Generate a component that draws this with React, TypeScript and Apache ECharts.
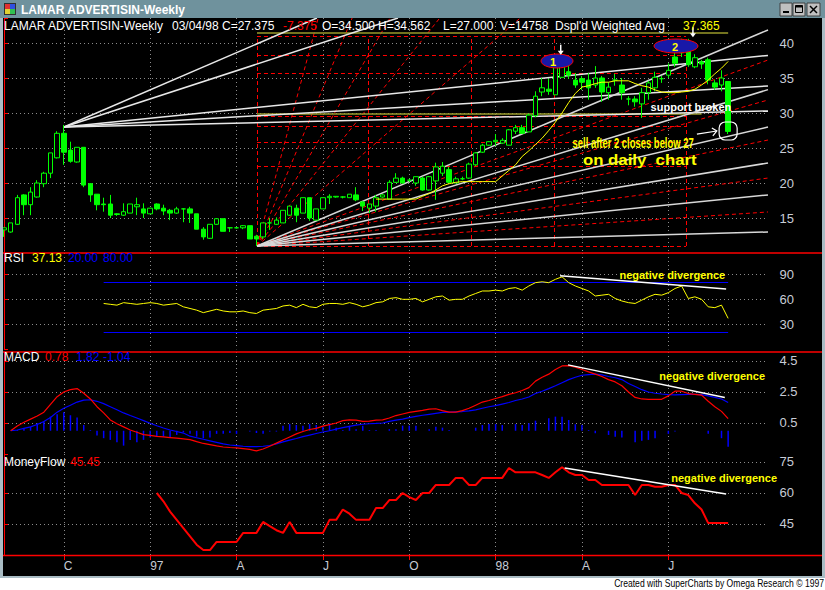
import React, { useEffect, useRef } from "react";
import * as echarts from "echarts";

// ---------- axis / category data ----------
const N_SLOTS = 116;
const SLOTS = Array.from({ length: N_SLOTS }, (_, i) => String(i));
const QUARTER_IDX = [9, 22, 35, 48, 61, 74, 87, 100];
const QUARTER_LABELS = ["C", "97", "A", "J", "O", "98", "A", "J"];
const PRICE_TICKS = [15, 20, 25, 30, 35, 40];
const RSI_TICKS = [30, 60, 90];
const MACD_TICKS = [0.5, 2.5, 4.5];
const MF_TICKS = [45, 60, 75];

// ---------- weekly candles [open, close, low, high] ----------
const OHLC = [
  [13.3, 13.6, 12.3, 13.6], [13.0, 14.3, 12.9, 14.3], [14.1, 17.9, 14.0, 18.3], [18.3, 16.9, 15.4, 18.4],
  [16.9, 18.7, 15.4, 19.4], [18.0, 20.0, 17.9, 20.4], [19.9, 21.4, 19.4, 21.6], [21.4, 24.3, 20.7, 24.3],
  [23.6, 27.1, 23.5, 27.4], [27.1, 24.4, 22.6, 28.3], [24.7, 23.1, 22.9, 25.9], [23.0, 25.1, 22.9, 25.1],
  [25.1, 19.7, 19.4, 25.1], [19.9, 18.3, 17.3, 20.0], [18.4, 16.9, 16.1, 18.4], [17.0, 16.9, 15.9, 17.9],
  [17.0, 15.4, 15.0, 18.3], [15.6, 15.5, 15.3, 15.7], [15.4, 15.9, 15.3, 17.1], [15.7, 17.0, 15.7, 17.0],
  [16.6, 16.9, 15.4, 17.9], [16.3, 15.7, 15.0, 17.1], [15.6, 16.4, 15.6, 16.4], [17.0, 16.3, 16.1, 17.1],
  [16.4, 16.0, 15.4, 16.9], [16.1, 15.7, 14.7, 16.3], [15.7, 16.3, 15.6, 16.6], [16.3, 16.3, 14.4, 16.4],
  [16.3, 15.7, 14.3, 16.6], [15.6, 13.4, 13.4, 15.6], [13.4, 12.3, 11.9, 13.7], [12.1, 14.1, 12.0, 14.1],
  [14.1, 14.9, 14.0, 14.9], [14.9, 13.1, 13.1, 14.9], [13.6, 13.6, 13.0, 13.7], [13.6, 13.6, 13.5, 13.7],
  [13.6, 13.9, 13.4, 14.0], [13.9, 12.0, 12.0, 13.9], [12.4, 12.0, 11.0, 12.6], [12.3, 14.3, 12.0, 14.3],
  [14.3, 14.3, 13.3, 15.0], [14.1, 14.7, 14.0, 15.1], [14.3, 16.1, 14.3, 16.1], [15.4, 16.7, 15.3, 16.7],
  [16.4, 15.4, 14.4, 16.9], [15.7, 17.9, 15.7, 17.9], [17.9, 15.0, 14.6, 17.9], [14.7, 16.3, 14.7, 16.3],
  [16.3, 17.9, 16.3, 17.9], [17.9, 18.1, 17.0, 18.4], [18.0, 18.1, 17.9, 18.1], [18.0, 18.0, 17.8, 18.1],
  [17.9, 18.4, 17.9, 18.4], [18.3, 17.6, 17.4, 19.4], [17.3, 16.7, 16.0, 17.4], [16.4, 17.0, 15.7, 17.0],
  [16.7, 17.9, 15.9, 18.3], [18.0, 18.3, 17.9, 18.4], [17.7, 20.1, 17.7, 20.4], [20.1, 20.7, 20.0, 21.4],
  [20.7, 20.0, 19.9, 20.9], [20.4, 20.4, 20.1, 20.6], [20.0, 20.9, 19.6, 20.9], [20.7, 19.0, 18.9, 20.9],
  [19.0, 20.9, 18.9, 21.0], [20.3, 22.3, 17.6, 22.9], [21.4, 22.4, 21.0, 23.0], [21.9, 20.1, 20.0, 22.3],
  [20.0, 20.6, 20.0, 20.9], [20.6, 20.6, 20.4, 20.9], [20.7, 22.7, 20.6, 22.9], [22.6, 24.3, 22.4, 24.4],
  [24.4, 25.4, 24.3, 25.6], [25.4, 25.9, 25.3, 26.0], [25.9, 26.1, 25.3, 27.0], [25.7, 26.1, 25.6, 26.4],
  [25.4, 27.6, 25.4, 27.7], [27.4, 27.9, 27.0, 28.3], [27.9, 27.1, 27.0, 28.3], [27.3, 29.7, 27.3, 29.9],
  [29.6, 32.4, 29.4, 33.1], [33.0, 33.6, 32.4, 35.0], [33.4, 33.1, 32.6, 34.9], [32.6, 36.6, 32.6, 36.9],
  [35.1, 38.0, 35.0, 38.7], [35.9, 35.4, 34.9, 37.0], [34.7, 34.0, 33.6, 35.7], [34.9, 34.4, 33.3, 35.3],
  [34.7, 33.6, 31.9, 35.7], [34.0, 35.0, 33.6, 36.7], [35.0, 33.0, 31.6, 35.3], [32.9, 33.7, 31.9, 34.4],
  [34.7, 34.7, 33.9, 35.6], [34.0, 32.9, 31.9, 35.0], [32.0, 32.0, 31.1, 32.4], [32.0, 31.6, 30.9, 32.4],
  [31.3, 32.9, 29.3, 33.6], [32.9, 34.3, 31.9, 34.6], [33.6, 35.1, 33.1, 35.9], [34.9, 34.9, 34.3, 35.3],
  [35.4, 36.1, 35.0, 37.1], [38.0, 37.1, 36.6, 39.0], [38.6, 40.1, 38.0, 40.6], [40.1, 36.9, 36.6, 40.6],
  [36.6, 37.9, 36.4, 38.4], [37.3, 37.0, 36.3, 37.6], [37.6, 34.7, 34.1, 37.9], [34.3, 33.7, 33.3, 34.7],
  [34.0, 35.0, 33.1, 36.1], [34.5, 27.375, 27.0, 34.562],
];

// ---------- displayed weighted average ----------
const WMA_START = 56;
const WMA = [
  17.7, 17.7, 17.7, 17.7, 17.7, 17.7, 17.7, 18.1, 18.5, 19.0, 19.6, 19.9, 20.1, 20.2, 20.2, 20.2, 20.2, 20.2,
  20.2, 21.0, 21.8, 22.6, 23.8, 24.6, 25.5, 26.4, 27.5, 28.7, 30.0, 31.5, 32.8, 33.7, 33.9, 34.2, 34.4, 34.4,
  34.6, 34.6, 34.6, 34.2, 33.9, 33.7, 33.3, 33.0, 32.9, 32.9, 33.0, 33.1, 33.4, 34.0, 34.7, 35.6, 36.4, 37.365,
];

// ---------- RSI ----------
const RSI_START = 15;
const RSI = [
  55, 54, 53, 56, 55, 54, 55, 56, 55, 53, 54, 55, 51, 49, 47, 44, 46, 48, 46, 45, 45, 46, 44, 43, 47, 48, 49,
  52, 53, 50, 54, 51, 50, 54, 55, 55, 54, 56, 54, 51, 53, 56, 57, 61, 62, 60, 60, 61, 57, 60, 63, 64, 59, 60,
  60, 64, 67, 70, 70, 71, 70, 73, 74, 71, 76, 80, 81, 80, 84, 87, 80, 76, 73, 70, 64, 65, 66, 61, 58, 56, 55,
  59, 63, 66, 65, 68, 73, 76, 61, 63, 60, 51, 50, 53, 37.13,
];

// ---------- MACD ----------
const MACD_START = 1;
const MACD = [
  0.0, 0.3, 0.55, 0.75, 0.95, 1.2, 1.7, 2.2, 2.5, 2.65, 2.72, 2.42, 2.05, 1.55, 1.15, 0.7, 0.45, 0.25, 0.05,
  -0.1, -0.25, -0.3, -0.36, -0.4, -0.44, -0.48, -0.52, -0.57, -0.7, -0.82, -0.9, -0.98, -1.05, -1.08, -1.1,
  -1.15, -1.2, -1.3, -1.18, -1.0, -0.8, -0.6, -0.4, -0.2, -0.05, 0.08, 0.15, 0.3, 0.4, 0.5, 0.65, 0.7, 0.68,
  0.6, 0.62, 0.68, 0.7, 0.82, 0.98, 1.08, 1.18, 1.25, 1.32, 1.4, 1.42, 1.3, 1.2, 1.2, 1.3, 1.45, 1.65, 1.85,
  1.95, 2.08, 2.2, 2.35, 2.45, 2.6, 2.78, 3.2, 3.45, 3.65, 3.95, 4.18, 4.2, 4.1, 3.95, 3.8, 3.65, 3.5, 3.3,
  3.15, 2.9, 2.5, 2.15, 2.05, 2.02, 2.02, 2.03, 2.25, 2.55, 2.55, 2.4, 2.35, 2.3, 1.9, 1.55, 1.25, 0.78,
];
const SIGNAL = [
  0.0, 0.05, 0.15, 0.25, 0.4, 0.6, 0.85, 1.2, 1.45, 1.65, 1.85, 1.98, 2.0, 1.9, 1.75, 1.55, 1.35, 1.15, 0.98,
  0.82, 0.65, 0.48, 0.32, 0.18, 0.05, -0.05, -0.15, -0.35, -0.45, -0.55, -0.65, -0.75, -0.85, -0.92, -0.96,
  -1.0, -1.02, -1.03, -1.0, -0.95, -0.85, -0.72, -0.6, -0.5, -0.38, -0.28, -0.18, -0.08, 0.0, 0.1, 0.2, 0.28,
  0.36, 0.42, 0.45, 0.47, 0.5, 0.6, 0.68, 0.75, 0.85, 0.93, 1.0, 1.06, 1.12, 1.18, 1.2, 1.22, 1.24, 1.28, 1.35,
  1.45, 1.55, 1.62, 1.72, 1.82, 1.95, 2.05, 2.18, 2.4, 2.55, 2.72, 2.9, 3.1, 3.3, 3.45, 3.58, 3.62, 3.65, 3.6,
  3.5, 3.42, 3.3, 3.05, 2.85, 2.65, 2.5, 2.42, 2.37, 2.33, 2.31, 2.33, 2.35, 2.35, 2.33, 2.25, 2.15, 2.05, 1.82,
];
const HIST = [
  0, 0, 0.05, 0.15, 0.26, 0.48, 0.6, 0.91, 1.06, 1.19, 1.0, 0.85, 0.37, 0.05, -0.3, -0.48, -0.59, -0.74, -0.96,
  -0.59, -0.74, -0.59, -0.43, -0.38, -0.38, -0.43, -0.27, -0.1, -0.2, -0.38, -0.48, -0.43, -0.2, -0.2, -0.15,
  -0.2, 0.0, -0.05, -0.15, -0.2, -0.05, -0.05, 0.32, 0.43, 0.37, 0.32, 0.43, 0.37, 0.26, 0.48, 0.2, 0.05, 0.32,
  0.1, 0.32, 0.05, 0.05, 0, 0.1, 0.1, 0.33, 0.33, 0.33, 0, 0.1, 0.26, 0.2, 0.05, 0, 0, 0, 0.2, 0.37, 0.43, 0.43,
  0.37, 0, 0.43, 0.37, 0.48, 0.65, 0, 0.81, 0.91, 0.91, 0.69, 0.42, 0.37, 0.05, -0.16, 0, -0.27, -0.38, -0.43,
  0, -0.74, -0.65, -0.59, -0.48, 0, -0.2, -0.05, 0, 0, 0, 0, -0.2, 0, -0.48, -1.04,
];

// ---------- Money Flow ----------
const MF_START = 23;
const MF = [
  60, 56, 51, 47, 43, 39, 35, 32.4, 32.4, 36.3, 36.3, 36.3, 36.3, 40.7, 40.7, 40.7, 46, 44, 42, 40.7, 46, 40.7,
  40.7, 40.7, 40.7, 40.7, 47, 47, 52, 50, 47, 47, 47, 52.7, 52.7, 56.6, 56.6, 60, 58, 56.6, 60, 60, 63.9, 63.9,
  63.9, 67.3, 67.3, 63.9, 63.9, 67.3, 67.3, 67.3, 67.3, 72.1, 70, 70, 70, 70, 68.7, 67.3, 70, 72.5, 70, 68.7,
  68.7, 66.3, 66.3, 63.9, 63.9, 63.9, 63.9, 63.9, 59, 63.9, 63.9, 63, 63, 63.9, 63.9, 60, 59, 55, 52, 45.45,
  45.45, 45.45, 45.45,
];

// ---------- drawn studies (x = week index, y = value) ----------
const PEAK_FAN = [
  [9.03, 28.0, 47.1, 43.57], [9.03, 28.0, 59.3, 43.57], [9.03, 28.0, 115, 38.23],
  [9.03, 28.0, 115, 33.86], [9.03, 28.0, 115, 30.29],
];
const LOW_FAN_WHITE = [
  [38.08, 11.0, 115, 41.86], [38.08, 11.0, 115, 33.34], [38.08, 11.0, 115, 28.0],
  [38.08, 11.0, 115, 22.86], [38.08, 11.0, 115, 18.29], [38.08, 11.0, 115, 13.0],
];
const LOW_FAN_RED = [
  [38.08, 11.0, 47.3, 43.57], [38.08, 11.0, 52.4, 43.57], [38.08, 11.0, 58.1, 43.57],
  [38.08, 11.0, 65.6, 43.57], [38.08, 11.0, 77.7, 43.57], [38.08, 11.0, 115, 37.57],
  [38.08, 11.0, 115, 31.86], [38.08, 11.0, 115, 26.14], [38.08, 11.0, 115, 20.71], [38.08, 11.0, 115, 15.86],
];
const GANN_BOX_X = [38.08, 54.8, 70.3, 82.9, 102.66];
const GANN_BOX_Y = [40.93, 38.3, 35.7, 29.57, 28.04, 25.86, 22.43, 11.0];
const OLIVE_LINES = [[38.08, 41.47, 109, 41.47], [38.08, 29.86, 105, 29.86]];
const RSI_LEVELS = [[15, 80, 109, 80], [15, 20, 109, 20]];
const RSI_DIV = [[83.7, 88.2, 108.7, 72.4]];
const MACD_DIV = [[84.9, 4.25, 108.5, 2.14]];
const MF_DIV = [[84.4, 72.1, 108.7, 59.5]];

const FONT = '"Liberation Sans", Arial, sans-serif';
const GRID_COLOR = "#8c8c8c";
const AXIS_TEXT = "#c8ccd6";

const pad = (start: number, arr: number[]) => {
  const out: (number | null)[] = [];
  for (let i = 0; i < start; i++) out.push(null);
  return out.concat(arr);
};
const segs = (arr: number[][]) => arr.map(([a, b, c, d]) => ({ coords: [[a, b], [c, d]] }));

function buildOption(): any {
  const isQ = (i: number) => QUARTER_IDX.indexOf(i) >= 0;
  const grids = [
    { left: 4, right: 57, top: 18, height: 235 },
    { left: 4, right: 57, top: 253, height: 96.3 },
    { left: 4, right: 57, top: 352, height: 102 },
    { left: 4, right: 57, top: 454, height: 101 },
  ];
  const catAxes = grids.map((_, g) => ({
    type: "category",
    gridIndex: g,
    data: SLOTS,
    boundaryGap: false,
    axisLine: { show: false },
    axisTick: {
      show: g === 3,
      interval: (i: number) => isQ(i),
      length: 5,
      lineStyle: { color: "#ff0000" },
    },
    axisLabel: {
      show: g === 3,
      interval: (i: number) => isQ(i),
      formatter: (v: string) => {
        const k = QUARTER_IDX.indexOf(Number(v));
        return k >= 0 ? QUARTER_LABELS[k] : "";
      },
      color: AXIS_TEXT,
      fontSize: 12,
      fontFamily: FONT,
      margin: 5,
      align: "left",
    },
    splitLine: {
      show: true,
      interval: (i: number) => isQ(i),
      lineStyle: { color: GRID_COLOR, type: [1, 3], width: 1 },
    },
  }));
  const valAxes = grids.map((_, g) => ({
    type: "value",
    gridIndex: g,
    min: 0,
    max: 115,
    show: false,
    splitLine: { show: false },
  }));
  const mkY = (g: number, min: number, max: number, interval: number, ticks: number[], fmt: (v: number) => string) => ({
    type: "value",
    gridIndex: g,
    position: "right",
    offset: 3.5,
    min,
    max,
    interval,
    axisLine: { show: true, lineStyle: { color: "#ff0000", width: 1 } },
    axisTick: { show: true, length: 4, lineStyle: { color: "#ff0000" } },
    axisLabel: {
      color: AXIS_TEXT,
      fontSize: 13,
      fontFamily: FONT,
      margin: 8,
      formatter: (v: number) => (ticks.some((t) => Math.abs(t - v) < 1e-6) ? fmt(v) : ""),
    },
    splitLine: {
      show: true,
      showMinLine: false,
      showMaxLine: false,
      lineStyle: { color: GRID_COLOR, type: [1, 3], width: 1 },
    },
  });
  const yAxes = [
    mkY(0, 10, 10 + 235 / 7, 5, PRICE_TICKS, (v) => String(v)),
    mkY(1, 0, 115.6, 30, RSI_TICKS, (v) => String(v)),
    mkY(2, -1.5, 5.08, 2, MACD_TICKS, (v) => v.toFixed(1)),
    mkY(3, 30, 78.87, 15, MF_TICKS, (v) => String(v)),
  ];

  const linesSeries = (xi: number, yi: number, data: number[][], color: string, width: number, type: any = "solid", z = 3) => ({
    type: "lines",
    coordinateSystem: "cartesian2d",
    xAxisIndex: xi,
    yAxisIndex: yi,
    polyline: false,
    silent: true,
    z,
    lineStyle: { color, width, type, opacity: 1 },
    data: segs(data),
  });

  const boxLines: number[][] = [];
  GANN_BOX_X.forEach((x) => boxLines.push([x, 11.0, x, 40.93]));
  GANN_BOX_Y.forEach((y) => boxLines.push([38.08, y, 102.66, y]));

  return {
    animation: false,
    backgroundColor: "#000000",
    grid: grids,
    xAxis: [...catAxes, ...valAxes],
    yAxis: yAxes,
    series: [
      linesSeries(4, 0, boxLines, "#ff0000", 1, [4, 3], 1),
      linesSeries(4, 0, LOW_FAN_RED, "#ff0000", 1, [4, 3], 1),
      linesSeries(4, 0, OLIVE_LINES, "#9a9a2a", 1.5, "solid", 1),
      linesSeries(4, 0, PEAK_FAN, "#e8e8e8", 1.5, "solid", 1),
      linesSeries(4, 0, LOW_FAN_WHITE, "#d8d8d8", 1.5, "solid", 1),
      {
        type: "candlestick",
        xAxisIndex: 0,
        yAxisIndex: 0,
        data: OHLC,
        barWidth: 5,
        z: 4,
        itemStyle: {
          color: "#000000",
          color0: "#00ff00",
          borderColor: "#00ff00",
          borderColor0: "#00ff00",
          borderWidth: 1,
        },
      },
      {
        type: "line",
        xAxisIndex: 0,
        yAxisIndex: 0,
        data: pad(WMA_START, WMA),
        symbol: "none",
        z: 5,
        lineStyle: { color: "#ffff00", width: 1 },
      },
      // RSI panel
      linesSeries(5, 1, RSI_LEVELS, "#0000ff", 1.2),
      {
        type: "line",
        xAxisIndex: 1,
        yAxisIndex: 1,
        data: pad(RSI_START, RSI),
        symbol: "none",
        z: 4,
        lineStyle: { color: "#ffff00", width: 1 },
      },
      linesSeries(5, 1, RSI_DIV, "#ffffff", 1.5, "solid", 5),
      // MACD panel
      {
        type: "bar",
        xAxisIndex: 2,
        yAxisIndex: 2,
        data: HIST,
        barWidth: 1.5,
        itemStyle: { color: "#0000ff" },
      },
      {
        type: "line",
        xAxisIndex: 2,
        yAxisIndex: 2,
        data: pad(MACD_START, SIGNAL),
        symbol: "none",
        lineStyle: { color: "#0000ff", width: 1.2 },
      },
      {
        type: "line",
        xAxisIndex: 2,
        yAxisIndex: 2,
        data: pad(MACD_START, MACD),
        symbol: "none",
        lineStyle: { color: "#ff0000", width: 1.2 },
      },
      linesSeries(6, 2, MACD_DIV, "#ffffff", 1.5, "solid", 5),
      // Money flow
      {
        type: "line",
        xAxisIndex: 3,
        yAxisIndex: 3,
        data: pad(MF_START, MF),
        symbol: "none",
        lineStyle: { color: "#ff0000", width: 2 },
      },
      linesSeries(7, 3, MF_DIV, "#ffffff", 1.5, "solid", 5),
    ],
  };
}

function buildGraphics(px: (ax: number, ay: number, x: number, y: number) => number[]): any[] {
  const txt = (x: number, y: number, text: string, fill: string, font = `12px ${FONT}`, align = "left", sx = 1) => ({
    type: "text",
    x,
    y,
    z: 50,
    scaleX: sx,
    silent: true,
    style: { text, fill, font, align, verticalAlign: "middle" },
  });
  const hline = (y: number, color = "#ff0000") => ({
    type: "line",
    z: 40,
    silent: true,
    shape: { x1: 3, y1: y, x2: 822, y2: y },
    style: { stroke: color, lineWidth: 1.5 },
  });
  const g: any[] = [];
  // window chrome
  g.push({ type: "rect", z: 60, shape: { x: 0, y: 0, width: 825, height: 18 }, style: { fill: "#6f929d" } });
  g.push({ type: "rect", z: 60, shape: { x: 0, y: 18, width: 3, height: 560 }, style: { fill: "#a9bcc4" } });
  g.push({ type: "rect", z: 60, shape: { x: 822, y: 18, width: 3, height: 560 }, style: { fill: "#a9bcc4" } });
  g.push({ type: "rect", z: 60, shape: { x: 0, y: 576, width: 825, height: 14 }, style: { fill: "#ffffff" } });
  g.push({ type: "rect", z: 60, shape: { x: 0, y: 576, width: 825, height: 2 }, style: { fill: "#a9bcc4" } });
  // title icon
  g.push({ type: "rect", z: 61, shape: { x: 4, y: 3, width: 12, height: 12 }, style: { fill: "#303030" } });
  g.push({ type: "rect", z: 62, shape: { x: 5, y: 4, width: 5, height: 5 }, style: { fill: "#e03030" } });
  g.push({ type: "rect", z: 62, shape: { x: 10, y: 4, width: 5, height: 5 }, style: { fill: "#3050e0" } });
  g.push({ type: "rect", z: 62, shape: { x: 5, y: 9, width: 5, height: 5 }, style: { fill: "#e0d030" } });
  g.push({ type: "rect", z: 62, shape: { x: 10, y: 9, width: 5, height: 5 }, style: { fill: "#30c050" } });
  g.push({ ...txt(21, 9.5, "LAMAR ADVERTISIN-Weekly", "#ffffff", `bold 12px ${FONT}`), z: 62 });
  // window buttons
  [[780, 12], [793, 12], [807, 13]].forEach(([x, w]) => {
    g.push({
      type: "rect",
      z: 61,
      shape: { x, y: 3, width: w, height: 13 },
      style: { fill: "#c0c0c0", stroke: "#404040", lineWidth: 1 },
    });
  });
  g.push({ type: "rect", z: 62, shape: { x: 783, y: 11, width: 6, height: 2 }, style: { fill: "#000" } });
  g.push({ type: "rect", z: 62, shape: { x: 795.5, y: 5.5, width: 7, height: 7 }, style: { fill: "none", stroke: "#000", lineWidth: 1 } });
  g.push({ type: "rect", z: 62, shape: { x: 795.5, y: 5.5, width: 7, height: 2 }, style: { fill: "#000" } });
  g.push({ type: "line", z: 62, shape: { x1: 810, y1: 6, x2: 817, y2: 13 }, style: { stroke: "#000", lineWidth: 1.5 } });
  g.push({ type: "line", z: 62, shape: { x1: 817, y1: 6, x2: 810, y2: 13 }, style: { stroke: "#000", lineWidth: 1.5 } });
  g.push({
    ...txt(824, 583.5, "Created with SuperCharts by Omega Research \u00a9 1997", "#000000", `11px ${FONT}`, "right", 0.78),
    z: 62,
  });

  // panel separators
  g.push(hline(253));
  g.push(hline(352));
  g.push(hline(555.5));

  // header
  const HY = 26;
  g.push(txt(4, HY, "LAMAR ADVERTISIN-Weekly", "#ffffff"));
  g.push(txt(172, HY, "03/04/98", "#ffffff"));
  g.push(txt(222, HY, "C=27.375", "#ffffff"));
  g.push(txt(283, HY, "-7.375", "#ff0000"));
  g.push(txt(322, HY, "O=34.500", "#ffffff"));
  g.push(txt(378, HY, "H=34.562", "#ffffff"));
  g.push(txt(443, HY, "L=27.000", "#ffffff"));
  g.push(txt(500, HY, "V=14758", "#ffffff"));
  g.push(txt(555, HY, "Dspl'd Weighted Avg", "#ffffff"));
  g.push(txt(683, HY, "37.365", "#ffff00"));

  // sub-panel titles
  g.push(txt(4, 258, "RSI", "#ffffff"));
  g.push(txt(32, 258, "37.13", "#ffff00"));
  g.push(txt(68, 258, "20.00", "#0000ff"));
  g.push(txt(103, 258, "80.00", "#0000ff"));
  g.push(txt(4, 357, "MACD", "#ffffff"));
  g.push(txt(45, 357, "0.78", "#ff0000"));
  g.push(txt(76, 357, "1.82", "#0000ff"));
  g.push(txt(103, 357, "-1.04", "#0000ff"));
  g.push(txt(4, 462, "MoneyFlow", "#ffffff"));
  g.push(txt(70, 462, "45.45", "#ff0000"));

  // price annotations anchored to data
  const P = (x: number, y: number) => px(4, 0, x, y);
  const e1 = P(83.24, 37.43);
  const e2 = P(101.15, 39.57);
  g.push({ type: "ellipse", z: 45, shape: { cx: e1[0], cy: e1[1], rx: 16, ry: 7 }, style: { fill: "#1818a8", stroke: "#ff0000", lineWidth: 1 } });
  g.push({ type: "ellipse", z: 45, shape: { cx: e2[0], cy: e2[1], rx: 22, ry: 7 }, style: { fill: "#1818a8", stroke: "#ff0000", lineWidth: 1 } });
  g.push(txt(e1[0] - 4, e1[1] + 1, "1", "#ffff00", `bold 11px ${FONT}`, "center"));
  g.push(txt(e2[0] - 1, e2[1] + 1, "2", "#ffff00", `bold 11px ${FONT}`, "center"));
  const a1 = P(83.8, 38.9);
  const a2 = P(103.7, 41.4);
  [a1, a2].forEach(([x, y]) => {
    g.push({ type: "line", z: 46, shape: { x1: x, y1: y - 6, x2: x, y2: y + 2 }, style: { stroke: "#ffffff", lineWidth: 1.5 } });
    g.push({ type: "polygon", z: 46, shape: { points: [[x - 3, y], [x + 3, y], [x, y + 4]] }, style: { fill: "#ffffff" } });
  });
  const sb = P(103.4, 30.86);
  g.push(txt(sb[0], sb[1], "support broken", "#ffffff", `bold 11px ${FONT}`, "center"));
  const s1 = P(94.7, 25.71);
  g.push(txt(s1[0], s1[1], "sell after 2 closes below 27", "#ffff00", `bold 15px ${FONT}`, "center", 0.63));
  const s2 = P(95.7, 23.29);
  g.push(txt(s2[0], s2[1], "on daily  chart", "#ffff00", `bold 15px ${FONT}`, "center", 1.12));
  const c = P(109, 27.43);
  g.push({ type: "rect", z: 46, shape: { x: c[0] - 9, y: c[1] - 9, width: 18, height: 18, r: 6 }, style: { fill: "none", stroke: "#ffffff", lineWidth: 1.2 } });
  const ar0 = P(104.3, 26.99);
  const ar1 = P(107.3, 27.43);
  g.push({ type: "line", z: 46, shape: { x1: ar0[0], y1: ar0[1], x2: ar1[0], y2: ar1[1] }, style: { stroke: "#ffffff", lineWidth: 1.2 } });
  g.push({ type: "polyline", z: 46, shape: { points: [[ar1[0] - 5, ar1[1] - 3], [ar1[0], ar1[1]], [ar1[0] - 4, ar1[1] + 5]] }, style: { stroke: "#ffffff", lineWidth: 1.2, fill: "none" } });

  // "negative divergence" labels
  const r = px(5, 1, 100.6, 89.2);
  g.push(txt(r[0], r[1], "negative divergence", "#ffff00", `bold 11px ${FONT}`, "center"));
  const m = px(6, 2, 106.6, 3.54);
  g.push(txt(m[0], m[1], "negative divergence", "#ffff00", `bold 11px ${FONT}`, "center"));
  const f = px(7, 3, 108.4, 67.3);
  g.push(txt(f[0], f[1], "negative divergence", "#ffff00", `bold 11px ${FONT}`, "center"));
  return g;
}

export default function App() {
  const ref = useRef<HTMLDivElement>(null);
  useEffect(() => {
    if (!ref.current) return;
    const chart = echarts.init(ref.current, null, { renderer: "svg" });
    chart.setOption(buildOption());
    const px = (ax: number, ay: number, x: number, y: number) =>
      chart.convertToPixel({ xAxisIndex: ax, yAxisIndex: ay } as any, [x, y]) as number[];
    chart.setOption({ graphic: { elements: buildGraphics(px) } });
    return () => chart.dispose();
  }, []);
  return <div ref={ref} style={{ position: "absolute", left: 0, top: 0, width: 825, height: 590 }} />;
}
